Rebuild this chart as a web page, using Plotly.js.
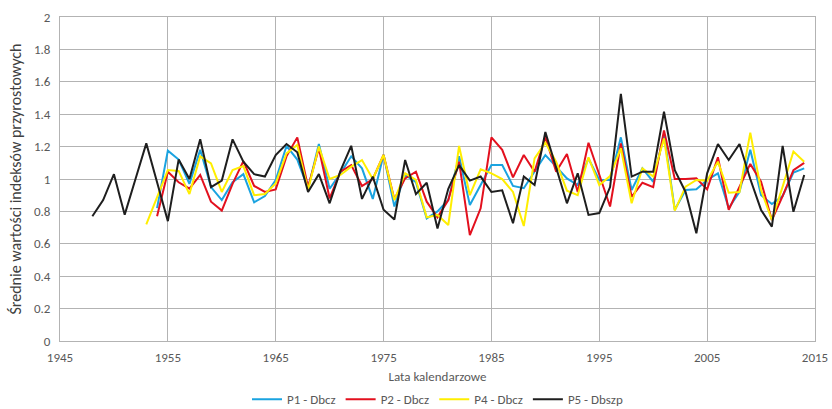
<!DOCTYPE html>
<html>
<head>
<meta charset="utf-8">
<script src="https://cdn.plot.ly/plotly-3.0.1.min.js"></script>
<style>html,body{margin:0;padding:0;background:#fff;}#chart{width:832px;height:409px;}</style>
</head>
<body>
<div id="chart"></div>
<script>
const yearsP5 = [1948,1949,1950,1951,1952,1953,1954,1955,1956,1957,1958,1959,1960,1961,1962,1963,1964,1965,1966,1967,1968,1969,1970,1971,1972,1973,1974,1975,1976,1977,1978,1979,1980,1981,1982,1983,1984,1985,1986,1987,1988,1989,1990,1991,1992,1993,1994,1995,1996,1997,1998,1999,2000,2001,2002,2003,2004,2005,2006,2007,2008,2009,2010,2011,2012,2013,2014];
const valuesP5 = [0.77,0.87,1.03,0.78,1.00,1.22,0.98,0.74,1.12,1.00,1.245,0.95,0.99,1.245,1.107,1.03,1.015,1.148,1.216,1.165,0.92,1.03,0.85,1.05,1.205,0.877,1.015,0.81,0.75,1.117,0.907,0.977,0.695,0.94,1.086,0.99,1.015,0.92,0.93,0.727,1.015,0.963,1.29,1.076,0.85,1.035,0.778,0.79,0.95,1.525,1.015,1.045,1.045,1.415,1.055,0.92,0.665,1.035,1.216,1.117,1.216,1.0,0.809,0.706,1.204,0.798,1.025];

const yearsP1 = [1954,1955,1956,1957,1958,1959,1960,1961,1962,1963,1964,1965,1966,1967,1968,1969,1970,1971,1972,1973,1974,1975,1976,1977,1978,1979,1980,1981,1982,1983,1984,1985,1986,1987,1988,1989,1990,1991,1992,1993,1994,1995,1996,1997,1998,1999,2000,2001,2002,2003,2004,2005,2006,2007,2008,2009,2010,2011,2012,2013,2014];
const valuesP1 = [0.82,1.175,1.12,0.97,1.18,0.95,0.87,0.98,1.03,0.856,0.895,0.994,1.204,1.12,0.94,1.216,0.94,1.035,1.14,1.066,0.877,1.15,0.83,1.025,0.98,0.757,0.80,0.87,1.14,0.84,0.963,1.086,1.086,0.957,0.943,1.045,1.148,1.076,1.004,0.963,1.127,0.994,0.994,1.257,0.932,1.066,0.983,1.28,0.81,0.932,0.936,0.994,1.035,0.819,0.92,1.18,0.90,0.846,0.895,1.04,1.066];

const yearsP2 = yearsP1;
const valuesP2 = [0.77,1.045,0.98,0.94,1.025,0.86,0.805,0.97,1.11,0.957,0.92,0.936,1.14,1.257,0.95,1.19,0.88,1.045,1.086,0.957,1.0,1.148,0.875,1.004,1.045,0.86,0.763,0.87,1.107,0.654,0.819,1.257,1.18,1.01,1.148,1.045,1.26,1.045,1.154,0.92,1.224,1.025,0.83,1.22,0.89,0.977,0.95,1.30,1.0,1.0,1.004,0.936,1.134,0.81,0.953,1.093,0.983,0.747,0.895,1.055,1.10];

const yearsP4 = [1953].concat(yearsP1);
const valuesP4 = [0.72,0.89,1.055,1.05,0.907,1.14,1.097,0.92,1.055,1.08,0.90,0.907,0.973,1.158,1.21,0.932,1.2,1.0,1.025,1.076,1.117,1.0,1.148,0.87,1.035,0.994,0.763,0.778,0.716,1.204,0.90,1.06,1.035,1.0,0.92,0.71,1.127,1.224,1.107,0.928,0.90,1.134,0.963,1.018,1.19,0.85,1.066,1.015,1.25,0.805,0.953,0.994,0.99,1.107,0.915,0.92,1.286,0.932,0.747,0.953,1.17,1.107];

const seriesNames = ['P1 - Dbcz','P2 - Dbcz','P4 - Dbcz','P5 - Dbszp'];
const xTicks = [1945,1955,1965,1975,1985,1995,2005,2015];
const yTicks = [0,0.2,0.4,0.6,0.8,1,1.2,1.4,1.6,1.8,2];
const yTickText = ['0','0.2','0.4','0.6','0.8','1','1.2','1.4','1.6','1.8','2'];

const FONT = 'Carlito, Lato, "Open Sans", sans-serif';
const GRID = '#b3b3b3';

const mk = (x, y, name, color) => ({
  x: x, y: y, name: name, type: 'scatter', mode: 'lines',
  line: {color: color, width: 2}
});

const data = [
  mk(yearsP1, valuesP1, seriesNames[0], '#1aa3e0'),
  mk(yearsP2, valuesP2, seriesNames[1], '#e3101e'),
  mk(yearsP4, valuesP4, seriesNames[2], '#ffee00'),
  mk(yearsP5, valuesP5, seriesNames[3], '#1e1e1e')
];

const layout = {
  width: 832, height: 409,
  margin: {l: 60, r: 17, t: 17, b: 68},
  paper_bgcolor: '#ffffff', plot_bgcolor: '#ffffff',
  font: {family: FONT, size: 13, color: '#595959'},
  showlegend: true,
  legend: {orientation: 'h', x: 0.5, xanchor: 'center', xref: 'paper',
           y: 0.024, yanchor: 'middle', yref: 'container',
           font: {family: FONT, size: 13, color: '#595959'}, itemwidth: 30},
  xaxis: {
    range: [1945, 2015], tickvals: xTicks, ticktext: xTicks.map(String),
    showgrid: true, gridcolor: GRID, gridwidth: 1,
    zeroline: false, showline: true, linecolor: GRID, mirror: true,
    ticks: 'outside', ticklen: 4, tickcolor: 'rgba(0,0,0,0)',
    tickfont: {family: FONT, size: 13, color: '#595959'},
    title: {text: 'Lata kalendarzowe', font: {family: FONT, size: 13, color: '#595959'}, standoff: 12}
  },
  yaxis: {
    range: [0, 2], tickvals: yTicks, ticktext: yTickText,
    showgrid: true, gridcolor: GRID, gridwidth: 1,
    zeroline: false, showline: true, linecolor: GRID, mirror: true,
    ticks: 'outside', ticklen: 6, tickcolor: 'rgba(0,0,0,0)',
    tickfont: {family: FONT, size: 13, color: '#595959'},
    title: {text: 'Średnie wartości indeksów przyrostowych', font: {family: FONT, size: 16, color: '#404040'}, standoff: 8}
  }
};

Plotly.newPlot('chart', data, layout, {displayModeBar: false, staticPlot: true});
</script>
</body>
</html>
